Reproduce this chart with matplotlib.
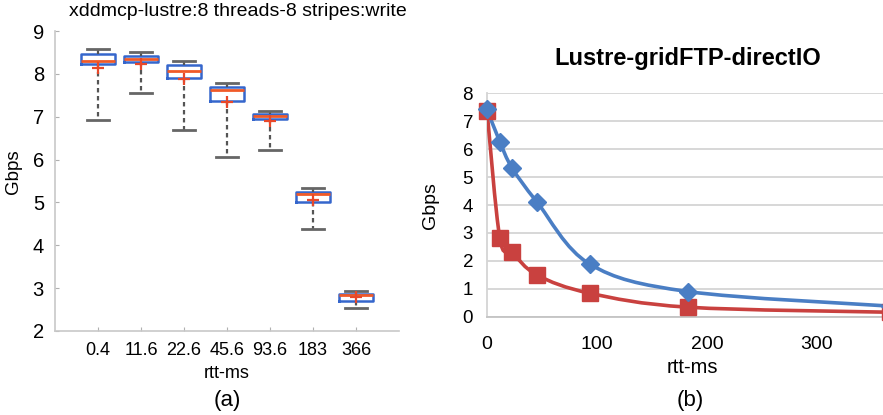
import numpy as np
import matplotlib
matplotlib.use("Agg")
import matplotlib.pyplot as plt
from matplotlib.path import Path
from matplotlib.patches import PathPatch

plt.rcParams['font.family'] = ['Liberation Sans', 'DejaVu Sans']

# ---- (a) box plot data: xddmcp on lustre, 8 threads, 8 stripes, write ----
rtt_labels = ["0.4", "11.6", "22.6", "45.6", "93.6", "183", "366"]
whisker_low = [6.92, 7.55, 6.68, 6.06, 6.22, 4.38, 2.54]
box_q1 = [8.22, 8.27, 7.90, 7.37, 6.94, 5.00, 2.70]
box_median = [8.30, 8.34, 8.07, 7.62, 7.01, 5.20, 2.85]
box_q3 = [8.46, 8.42, 8.21, 7.69, 7.07, 5.24, 2.87]
whisker_high = [8.58, 8.50, 8.31, 7.78, 7.13, 5.34, 2.93]
box_mean = [8.13, 8.24, 7.87, 7.35, 6.90, 5.06, 2.80]

# ---- (b) line chart data: Lustre gridFTP directIO ----
rtt_ms = [0, 11.6, 22.6, 45.6, 93.6, 183, 366]
gbps_blue = [7.43, 6.27, 5.34, 4.10, 1.88, 0.90, 0.38]
gbps_red = [7.38, 2.83, 2.31, 1.49, 0.84, 0.34, 0.16]

W, H = 883, 415
fig = plt.figure(figsize=(W / 100, H / 100), dpi=100)


def rect(x0, y0, x1, y1):
    """Axes rectangle from pixel corners (top-left origin)."""
    return [x0 / W, 1 - y1 / H, (x1 - x0) / W, (y1 - y0) / H]


# ================= panel (a) =================
ax1 = fig.add_axes(rect(55, 31, 399, 331))
stats = []
for i in range(len(rtt_labels)):
    stats.append(dict(med=box_median[i], q1=box_q1[i], q3=box_q3[i],
                      whislo=whisker_low[i], whishi=whisker_high[i],
                      mean=box_mean[i], fliers=[], label=rtt_labels[i]))
ax1.bxp(stats, positions=np.arange(1, len(stats) + 1), widths=0.8,
        capwidths=0.53, showmeans=True, showfliers=False,
        boxprops=dict(color="#3566cc", linewidth=1.8),
        medianprops=dict(color="#f05a28", linewidth=2.0),
        whiskerprops=dict(color="#555555", linewidth=1.6, linestyle=(0, (2, 1.6))),
        capprops=dict(color="#666666", linewidth=2.0),
        meanprops=dict(marker="+", markeredgecolor="#e8482a", markersize=8,
                       markeredgewidth=1.6))
ax1.set_xlim(0, 8)
ax1.set_ylim(2, 9)
ax1.set_yticks(range(2, 10))
for s in ("top", "right"):
    ax1.spines[s].set_visible(False)
for s in ("left", "bottom"):
    ax1.spines[s].set_color("#c8c8c8")
    ax1.spines[s].set_linewidth(1.2)
ax1.tick_params(axis="y", direction="in", length=3, color="#b0b0b0",
                labelsize=14.5, pad=8)
ax1.tick_params(axis="x", direction="in", length=3, color="#b0b0b0",
                labelsize=13, pad=8)
fig.text(238 / W, 1 - 12 / H, "xddmcp-lustre:8 threads-8 stripes:write",
         fontsize=14, ha="center", va="center")
fig.text(14 / W, 1 - 172 / H, "Gbps", rotation=90, fontsize=13.5,
         ha="center", va="center")
fig.text(227 / W, 1 - 374 / H, "rtt-ms", fontsize=13, ha="center", va="center")
fig.text(227 / W, 1 - 400 / H, "(a)", fontsize=16, ha="center", va="center")

# ================= panel (b) =================
ax2 = fig.add_axes(rect(487, 93.3, 927, 316.7))
ax2.set_xlim(0, 400)
ax2.set_ylim(0, 8)
ax2.set_yticks(range(0, 9))
ax2.set_xticks([0, 100, 200, 300])
ax2.grid(axis="y", color="#d4d4d4", linewidth=1.3)
ax2.set_axisbelow(True)
for s in ("top", "right"):
    ax2.spines[s].set_visible(False)
ax2.spines["left"].set_color("#d4d4d4")
ax2.spines["bottom"].set_color("#c4c4c4")
ax2.spines["left"].set_linewidth(1.3)
ax2.spines["bottom"].set_linewidth(1.3)
ax2.tick_params(axis="y", length=0, labelsize=13.5, pad=10)
ax2.tick_params(axis="x", length=0, labelsize=14, pad=14)


def smooth_path(xs, ys):
    """Cubic Bezier path through the points (Catmull-Rom style smoothing)."""
    pts = np.column_stack([xs, ys]).astype(float)
    n = len(pts)
    verts = [pts[0]]
    codes = [Path.MOVETO]
    for i in range(n - 1):
        p0 = pts[i - 1] if i > 0 else pts[i]
        p1 = pts[i]
        p2 = pts[i + 1]
        p3 = pts[i + 2] if i + 2 < n else pts[i + 1]
        c1 = p1 + (p2 - p0) / 6.0
        c2 = p2 - (p3 - p1) / 6.0
        verts += [c1, c2, p2]
        codes += [Path.CURVE4] * 3
    return Path(verts, codes)


blue = "#4a7ec4"
red = "#c9413f"
for xs, ys, col, mk, ms in ((rtt_ms, gbps_red, red, "s", 11),
                            (rtt_ms, gbps_blue, blue, "D", 9)):
    ax2.add_patch(PathPatch(smooth_path(xs, ys), facecolor="none",
                            edgecolor=col, linewidth=2.6, zorder=3))
    ax2.plot(xs, ys, linestyle="none", marker=mk, markersize=ms,
             color=col, zorder=4, clip_on=False)

fig.text(688 / W, 1 - 58 / H, "Lustre-gridFTP-directIO", fontsize=17,
         fontweight="bold", ha="center", va="center")
fig.text(430 / W, 1 - 206 / H, "Gbps", rotation=90, fontsize=14,
         ha="center", va="center")
fig.text(692 / W, 1 - 367 / H, "rtt-ms", fontsize=14.5, ha="center", va="center")
fig.text(690 / W, 1 - 400 / H, "(b)", fontsize=16, ha="center", va="center")

fig.savefig("out.png", dpi=100)
